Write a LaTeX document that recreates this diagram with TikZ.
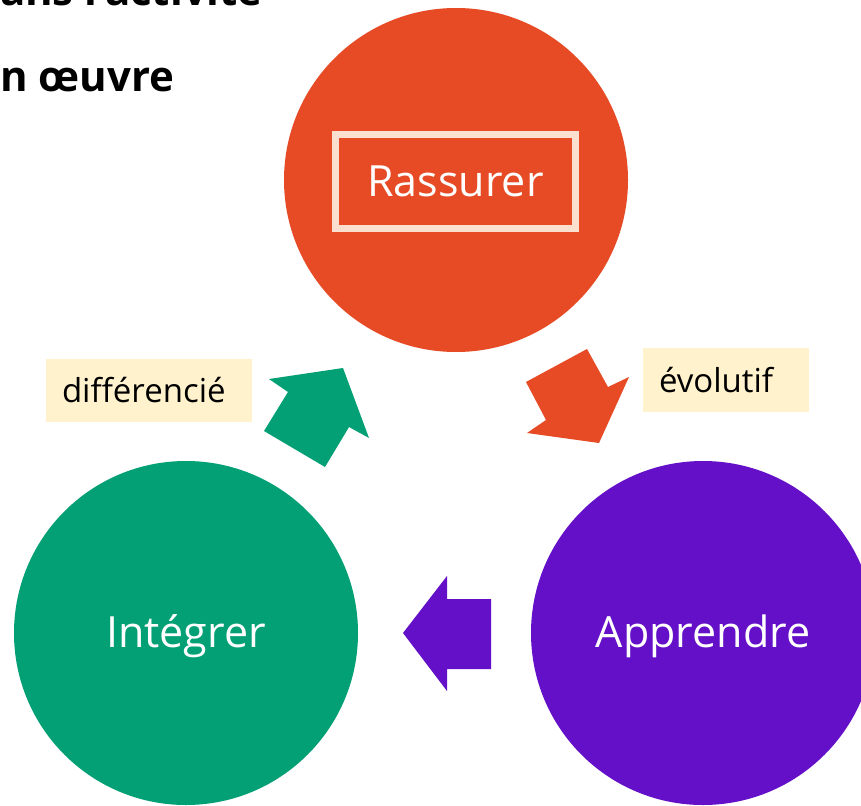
\documentclass[tikz,border=0pt]{standalone}
\usepackage{fontspec}
\setmainfont{Open Sans}
\definecolor{cOrange}{HTML}{E64B25}
\definecolor{cGreen}{HTML}{03A075}
\definecolor{cPurple}{HTML}{640FC8}
\definecolor{cFrame}{HTML}{FCE0CF}
\definecolor{cLabel}{HTML}{FFF2CC}
\tikzset{
  bigcircle/.style={circle, minimum size=344pt, inner sep=0pt, fill=#1},
  circletext/.style={inner sep=0pt, text=white, font=\fontsize{43}{50}\selectfont},
  tag/.style={fill=cLabel, inner xsep=16pt, inner ysep=0pt, align=left, font=\fontsize{33}{38}\selectfont, text=black},
  titletext/.style={inner sep=0pt, font=\bfseries\fontsize{42}{48}\selectfont}
}
\begin{document}
\begin{tikzpicture}[x=1pt,y=-1pt]
\useasboundingbox (0,0) rectangle (861,805);
\clip (0,0) rectangle (861,805);
\fill[white] (0,0) rectangle (861,805);
% title fragments
\node[titletext, anchor=base east] (t1) at (263,6) {ans l’activité};
\node[titletext, anchor=base west] (t2) at (0,92) {n œuvre};
% circles
\node[bigcircle=cOrange] (ras) at (456,180) {};
\node[bigcircle=cGreen] (int) at (186,633) {};
\node[bigcircle=cPurple] (app) at (703,633) {};
\node[circletext] (intlabel) at ([yshift=-3pt]int.center) {Intégrer};
\node[circletext] (applabel) at ([yshift=-3pt]app.center) {Apprendre};
% framed title inside orange circle
\node[draw=cFrame, line width=6.5pt, minimum width=240pt, minimum height=94pt, inner sep=0pt, text=white, font=\fontsize{43}{50}\selectfont] (rasbox) at (455.5,181.5) {Rassurer};
% block arrows
\fill[cOrange] (526,382) -- (587,349) -- (608,387) -- (629,377) -- (599,443) -- (527,433) -- (546,420) -- cycle;
\fill[cPurple] (403,633) -- (447,576) -- (447,599) -- (491,599) -- (491,669) -- (447,669) -- (447,691) -- cycle;
\fill[cGreen] (343,368) -- (369,438) -- (349,427) -- (325,467) -- (264,431) -- (288,392) -- (269,379) -- cycle;
% labels
\node[tag, text width=134pt, minimum height=64pt] (evo) at (726,380) {évolutif};
\node[tag, text width=174pt, minimum height=63pt] (dif) at (149,390.5) {différencié};
\end{tikzpicture}
\end{document}
